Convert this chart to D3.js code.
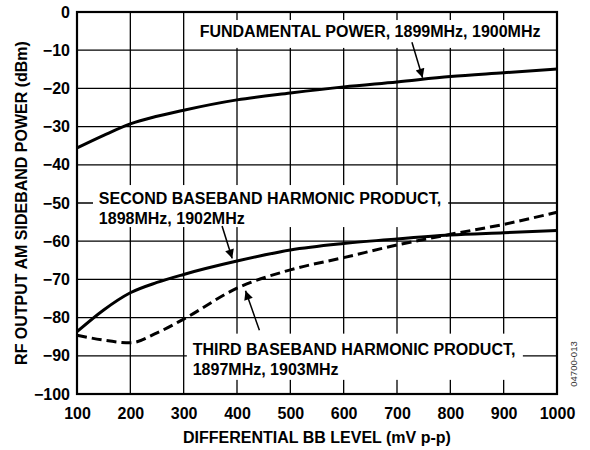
<!DOCTYPE html>
<html><head><meta charset="utf-8">
<script src="https://cdn.jsdelivr.net/npm/d3@7"></script>
<style>
html,body{margin:0;padding:0;background:#fff;}
svg{display:block;font-family:"Liberation Sans",Arial,sans-serif;}
</style></head>
<body>
<svg id="chart" width="590" height="450"></svg>
<script>
// ---- data ----
const xTicks = [100,200,300,400,500,600,700,800,900,1000];
const yTicks = [0,-10,-20,-30,-40,-50,-60,-70,-80,-90,-100];
const bbLevel = [100,150,200,250,300,400,500,600,700,800,900,1000];
const fundamental = [-35.6,-32.3,-29.3,-27.3,-25.7,-23.0,-21.2,-19.6,-18.3,-16.9,-15.9,-14.9];
const secondHarm  = [-83.7,-78.0,-73.5,-70.8,-68.7,-65.2,-62.3,-60.6,-59.4,-58.4,-57.8,-57.2];
const thirdHarm   = [-84.6,-85.9,-86.6,-84.0,-80.4,-72.3,-67.5,-64.3,-61.0,-58.2,-55.6,-52.4];
const labels = [
  {lines:["FUNDAMENTAL POWER, 1899MHz, 1900MHz"], x:330, y:-6.5, box:[310,990,-2.1,-9.4]},
  {lines:["SECOND BASEBAND HARMONIC PRODUCT,","1898MHz, 1902MHz"], x:141, y:-50.3, box:[130,796,-45.3,-56.3]},
  {lines:["THIRD BASEBAND HARMONIC PRODUCT,","1897MHz, 1903MHz"], x:317, y:-89.8, box:[306,936,-84.2,-96.3]}
];
const arrows = [
  {from:[728,-7.9], to:[748,-17.2]},
  {from:[372,-56.0], to:[391,-64.5]},
  {from:[442,-83.3], to:[416,-73.0]}
];

// ---- layout ----
const svg = d3.select("#chart");
const m = {l:77, r:557, t:12, b:394};
const x = d3.scaleLinear().domain([100,1000]).range([m.l,m.r]);
const y = d3.scaleLinear().domain([-100,0]).range([m.b,m.t]);
const FONT = "bold 16px 'Liberation Sans', Arial, sans-serif";

// gridlines
const g = svg.append("g");
g.selectAll("line.v").data(xTicks.slice(1,-1)).join("line")
  .attr("x1",d=>x(d)).attr("x2",d=>x(d)).attr("y1",m.t).attr("y2",m.b)
  .attr("stroke","#000").attr("stroke-width",1.3);
g.selectAll("line.h").data(yTicks.slice(1,-1)).join("line")
  .attr("y1",d=>y(d)).attr("y2",d=>y(d)).attr("x1",m.l).attr("x2",m.r)
  .attr("stroke","#000").attr("stroke-width",1.3);

// label boxes
svg.selectAll("rect.lb").data(labels).join("rect")
  .attr("x",d=>x(d.box[0])).attr("width",d=>x(d.box[1])-x(d.box[0]))
  .attr("y",d=>y(d.box[2])).attr("height",d=>y(d.box[3])-y(d.box[2]))
  .attr("fill","#fff");

// labels
labels.forEach(d=>{
  const t = svg.append("text").attr("x",x(d.x)).attr("y",y(d.y))
    .style("font",FONT).attr("fill","#000");
  d.lines.forEach((ln,i)=>{
    t.append("tspan").attr("x",x(d.x)).attr("dy",i===0?0:20).text(ln);
  });
});

// curves
const line = d3.line().x(d=>x(d[0])).y(d=>y(d[1])).curve(d3.curveMonotoneX);
const series = [
  {vals:fundamental, dash:null},
  {vals:secondHarm, dash:null},
  {vals:thirdHarm, dash:"10,5"}
];
series.forEach(s=>{
  svg.append("path").datum(bbLevel.map((b,i)=>[b,s.vals[i]]))
    .attr("d",line).attr("fill","none").attr("stroke","#000")
    .attr("stroke-width",3).attr("stroke-dasharray",s.dash);
});

// arrows
svg.append("defs").append("marker").attr("id","ah")
  .attr("viewBox","0 0 10 10").attr("refX",10).attr("refY",5)
  .attr("markerWidth",14).attr("markerHeight",9).attr("markerUnits","userSpaceOnUse")
  .attr("orient","auto")
  .append("path").attr("d","M0,0L10,5L0,10Z").attr("fill","#000");
svg.selectAll("line.arr").data(arrows).join("line")
  .attr("x1",d=>x(d.from[0])).attr("y1",d=>y(d.from[1]))
  .attr("x2",d=>x(d.to[0])).attr("y2",d=>y(d.to[1]))
  .attr("stroke","#000").attr("stroke-width",1.5)
  .attr("marker-end","url(#ah)");

// frame
svg.append("rect").attr("x",m.l).attr("y",m.t).attr("width",m.r-m.l).attr("height",m.b-m.t)
  .attr("fill","none").attr("stroke","#000").attr("stroke-width",2.2);

// axes
const xa = svg.append("g").attr("transform",`translate(0,${m.b})`)
  .call(d3.axisBottom(x).tickValues(xTicks).tickSize(0).tickPadding(10).tickFormat(d3.format("d")));
const ya = svg.append("g").attr("transform",`translate(${m.l},0)`)
  .call(d3.axisLeft(y).tickValues(yTicks).tickSize(0).tickPadding(7)
    .tickFormat(d=>d<0?"\u2212"+Math.abs(d):String(d)));
[xa,ya].forEach(a=>{
  a.select(".domain").remove();
  a.selectAll("text").style("font",FONT).attr("fill","#000");
});
xa.selectAll("text").attr("dy","0.95em");

// axis titles
svg.append("text").attr("x",(m.l+m.r)/2).attr("y",443).attr("text-anchor","middle")
  .style("font",FONT).text("DIFFERENTIAL BB LEVEL (mV p-p)");
svg.append("text").attr("transform",`translate(27,${(m.t+m.b)/2}) rotate(-90)`)
  .attr("text-anchor","middle").style("font",FONT).text("RF OUTPUT AM SIDEBAND POWER (dBm)");

// figure id
svg.append("text").attr("transform","translate(577,364) rotate(-90)")
  .attr("text-anchor","middle").style("font","9.5px 'Liberation Sans', Arial, sans-serif")
  .attr("fill","#333").text("04700-013");
</script>
</body></html>
